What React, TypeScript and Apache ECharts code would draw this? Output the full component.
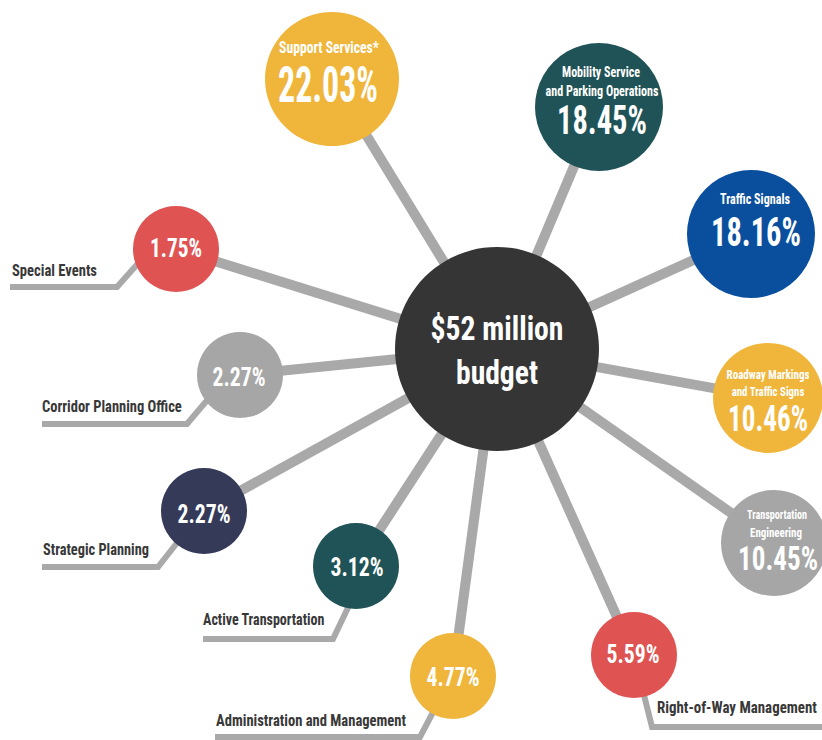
import React, { useEffect, useRef } from "react";
import * as echarts from "echarts";

// ---- data ----
const categories = [
  "Support Services*",
  "Mobility Service\nand Parking Operations",
  "Traffic Signals",
  "Roadway Markings\nand Traffic Signs",
  "Transportation\nEngineering",
  "Right-of-Way Management",
  "Administration and Management",
  "Active Transportation",
  "Strategic Planning",
  "Corridor Planning Office",
  "Special Events",
];
const shares = [22.03, 18.45, 18.16, 10.46, 10.45, 5.59, 4.77, 3.12, 2.27, 2.27, 1.75];
const hubLines = ["$52 million", "budget"];

// ---- layout (pixel space of the 822x740 canvas) ----
const hubCenter = [497, 349];
const hubRadius = 102;
const centers = [
  [332, 79], [599, 107], [751, 234], [768, 398], [774, 543],
  [634, 655], [453, 676], [356, 566], [204, 511], [240, 375], [176, 249],
];
const radii = [67, 64, 64, 55, 53, 43, 43, 43, 43, 43, 43];
const colors = [
  "#F0B63B", "#1F5357", "#0A4F9E", "#F0B63B", "#A6A6A6",
  "#E05353", "#F0B63B", "#1F5357", "#353A58", "#A6A6A6", "#E05353",
];
// text boxes: [centerX/leftX, centerY, fontSize, targetWidth]
const valueBoxes = [
  [328, 84, 50, 100], [602, 120, 41, 90], [756, 232, 41, 90], [768, 418, 37, 80], [778, 558, 34, 80],
  [633, 654, 26, 53], [453, 677, 26, 53], [357, 567, 26, 53], [204, 514, 26, 53], [239, 377, 26, 53], [176, 248, 26, 52],
];
const nameBoxes: number[][][] = [
  [[329, 47, 17, 100]],
  [[601, 72, 14, 78], [602, 91, 14, 113]],
  [[755, 199, 14, 70]],
  [[768, 375, 12.5, 83], [768, 392, 12.5, 73]],
  [[777, 515, 12, 60], [776, 533, 12, 52]],
];
// leader lines + outside labels for the small circles (index 5..10)
const leaders: Record<number, number[][]> = {
  5: [[634, 655], [652, 727], [822, 727]],
  6: [[450, 680], [420, 737], [215, 737]],
  7: [[366, 570], [333, 639], [203, 639]],
  8: [[195, 520], [158, 567], [42, 567]],
  9: [[220, 385], [187, 424], [42, 424]],
  10: [[150, 250], [117, 287], [10, 287]],
};
const outsideBoxes: Record<number, number[]> = {
  5: [657, 707, 17, 160],
  6: [216, 720, 17, 190],
  7: [203, 620, 17, 122],
  8: [43, 549, 17, 106],
  9: [42, 406, 17, 140],
  10: [12, 270, 17, 85],
};
const hubBoxes = [
  [497, 328, 34, 133],
  [497, 372, 34, 82],
];

const FF = "'Roboto Condensed', 'Liberation Sans Narrow', 'DejaVu Sans Condensed', sans-serif";

let measureCtx: CanvasRenderingContext2D | null = null;
function measure(text: string, size: number): number {
  if (!measureCtx) measureCtx = document.createElement("canvas").getContext("2d");
  if (!measureCtx) return text.length * size * 0.55;
  measureCtx.font = `bold ${size}px ${FF}`;
  return measureCtx.measureText(text).width;
}

export default function App() {
  const ref = useRef<HTMLDivElement>(null);
  useEffect(() => {
    if (!ref.current) return;
    const chart = echarts.init(ref.current, undefined, { renderer: "svg" });

    const spokes = centers.map((c) => ({ coords: [hubCenter, c] }));
    const leaderData = Object.keys(leaders).map((k) => ({ coords: leaders[Number(k)] }));

    const circleData = categories.map((name, i) => ({
      name: name.replace("\n", " "),
      value: [centers[i][0], centers[i][1], shares[i]],
      symbolSize: radii[i] * 2,
      itemStyle: { color: colors[i] },
    }));

    chart.setOption({
      animation: false,
      backgroundColor: "#ffffff",
      grid: { left: 0, right: 0, top: 0, bottom: 0 },
      xAxis: { type: "value", min: 0, max: 822, show: false },
      yAxis: { type: "value", min: 0, max: 740, inverse: true, show: false },
      series: [
        {
          type: "lines",
          coordinateSystem: "cartesian2d",
          silent: true,
          z: 1,
          lineStyle: { color: "#A9A9A9", width: 10, opacity: 1 },
          data: spokes,
        },
        {
          type: "lines",
          coordinateSystem: "cartesian2d",
          polyline: true,
          silent: true,
          z: 1,
          lineStyle: { color: "#A9A9A9", width: 6, opacity: 1, join: "miter" },
          data: leaderData,
        },
        {
          type: "scatter",
          z: 3,
          symbol: "circle",
          itemStyle: { opacity: 1 },
          data: circleData,
        },
        {
          type: "scatter",
          z: 4,
          symbol: "circle",
          symbolSize: hubRadius * 2,
          itemStyle: { color: "#353535", opacity: 1 },
          data: [{ name: hubLines.join(" "), value: hubCenter }],
        },
      ],
    });

    const toPx = (p: number[]) =>
      chart.convertToPixel({ xAxisIndex: 0, yAxisIndex: 0 }, [p[0], p[1]]) as number[];

    const makeText = (
      text: string,
      box: number[],
      fill: string,
      align: "center" | "left"
    ) => {
      const [px, py] = toPx(box);
      const size = box[2];
      const w = measure(text, size);
      const s = Math.min(1, box[3] / w);
      return {
        type: "text",
        x: px,
        y: py,
        scaleX: s,
        z: 100,
        silent: true,
        style: {
          text,
          fill,
          fontFamily: FF,
          fontWeight: "bold",
          fontSize: size,
          align,
          verticalAlign: "middle",
        },
      };
    };

    const texts: any[] = [];
    categories.forEach((name, i) => {
      texts.push(makeText(shares[i].toFixed(2) + "%", valueBoxes[i], "#ffffff", "center"));
      if (i < 5) {
        name.split("\n").forEach((line, j) => {
          texts.push(makeText(line, nameBoxes[i][j], "#ffffff", "center"));
        });
      } else {
        texts.push(makeText(name, outsideBoxes[i], "#383838", "left"));
      }
    });
    hubLines.forEach((line, j) => texts.push(makeText(line, hubBoxes[j], "#ffffff", "center")));

    chart.setOption({ graphic: { elements: texts } });

    return () => chart.dispose();
  }, []);
  return (
    <div
      ref={ref}
      style={{ position: "fixed", left: 0, top: 0, width: 822, height: 740, background: "#fff" }}
    />
  );
}
